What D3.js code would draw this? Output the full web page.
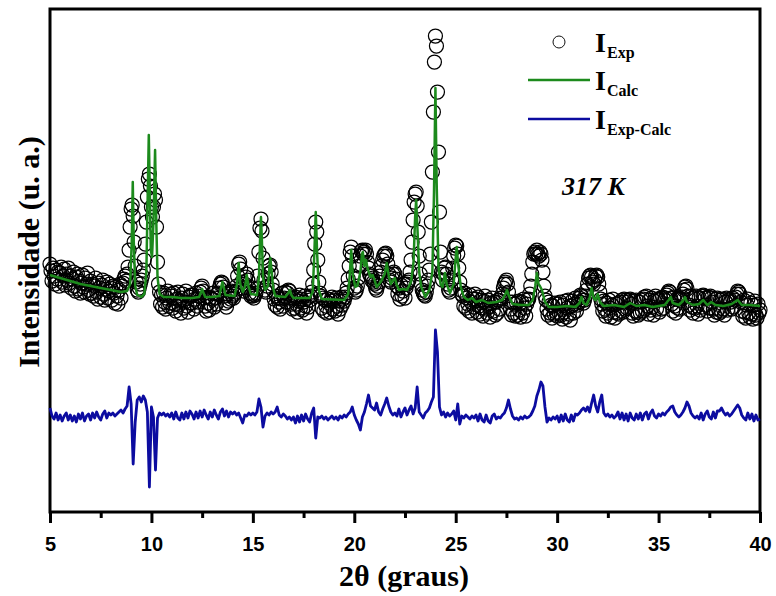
<!DOCTYPE html>
<html><head><meta charset="utf-8">
<script src="https://cdn.jsdelivr.net/npm/d3@7"></script>
<style>body{margin:0;background:#fff}svg{display:block}</style>
</head><body>
<svg id="chart" width="776" height="596"></svg>
<script>
// ---- data (intensity in arbitrary units) ----
const expStart = 5, expStep = 0.05;   // 2θ grid of the experimental points
const iExp = [
248,241,231,244,236,228,242,233,240,226,239,245,230,236,243,227,238,232,244,229,
236,224,233,240,226,221,235,238,223,231,219,229,237,225,220,234,228,239,222,218,
231,219,228,216,226,234,220,213,229,224,215,227,232,218,212,223,230,214,221,228,
224,212,226,219,209,225,216,208,222,228,214,226,229,233,236,231,238,245,262,285,
303,307,296,270,246,230,222,220,224,228,232,236,242,252,268,290,315,333,338,326,
305,295,305,318,312,285,250,228,220,208,217,205,219,210,203,214,221,206,209,218,
216,204,219,208,201,213,220,207,211,199,214,218,204,210,221,206,200,215,209,217,
209,217,203,213,219,206,210,216,220,224,226,221,214,206,201,215,209,202,214,207,
213,219,205,214,208,218,219,224,228,230,229,225,216,209,205,218,211,220,213,221,
216,214,218,220,226,236,248,250,243,230,224,221,228,235,238,232,224,219,216,218,
216,214,217,219,224,236,260,284,293,281,254,232,222,220,226,238,246,247,240,228,
222,213,207,216,205,214,210,203,213,219,206,214,220,210,219,222,221,214,208,203,
214,204,215,208,200,211,217,204,213,202,210,216,206,199,214,205,212,216,220,228,
242,268,290,280,252,230,219,216,204,214,201,212,206,199,213,209,200,211,215,203,
212,201,214,206,198,211,203,215,207,213,211,215,219,224,233,246,260,265,256,236,
224,220,222,226,234,246,256,261,262,258,260,262,258,250,244,238,236,232,234,230,
228,224,222,226,230,236,240,246,252,256,258,259,256,248,238,232,230,234,238,240,
238,233,226,218,224,213,227,216,221,228,214,224,228,230,232,240,252,270,292,310,
318,320,306,280,256,238,228,222,219,217,216,220,226,232,242,258,290,340,400,450,
476,466,420,360,300,260,240,232,238,244,245,238,228,222,220,224,232,244,256,264,
267,266,258,244,230,222,218,216,206,219,204,214,208,201,217,210,199,213,205,218,
213,200,215,206,198,212,204,196,211,216,203,199,212,205,195,209,214,201,210,197,
210,199,212,203,214,214,218,224,228,230,232,228,220,210,203,197,210,199,208,196,
209,197,211,202,195,210,199,213,204,196,208,212,213,218,226,238,250,258,260,258,
262,258,256,260,258,252,240,226,216,212,203,197,210,199,207,194,206,198,209,200,
196,208,199,210,197,193,207,200,211,195,204,212,198,192,206,211,199,208,214,201,
207,210,214,217,216,212,209,212,216,222,228,234,236,237,235,230,228,232,236,237,
235,228,220,213,208,201,211,203,196,209,199,212,204,195,207,213,200,194,208,199,
209,198,210,201,212,200,213,203,212,204,210,212,213,208,199,196,211,201,212,200,
197,210,199,212,201,213,215,203,216,206,198,212,202,214,205,197,211,216,203,213,
212,200,214,203,215,204,212,214,217,219,221,220,214,208,201,215,206,199,213,204,
214,203,213,215,218,222,225,226,223,216,207,202,216,205,199,214,204,216,206,198,
214,202,216,205,217,216,214,207,201,215,204,216,214,210,203,197,213,200,214,203,
199,212,201,213,203,197,210,214,202,212,213,210,203,214,205,212,215,218,221,220,
218,210,201,196,212,200,194,207,213,199,195,209,198,193,207,211,197,194,208,199,
202];

const calcTheta = [5.0,5.5,6.0,6.5,7.0,7.5,8.0,8.5,8.8,8.95,9.03,9.08,9.13,9.2,9.3,9.5,9.65,9.75,9.82,9.87,9.92,9.97,10.03,10.1,10.18,10.24,10.3,10.4,10.6,11.0,11.5,12.0,12.35,12.45,12.5,12.55,12.65,13.0,13.35,13.45,13.5,13.55,13.65,14.1,14.22,14.3,14.38,14.5,14.62,14.7,14.78,14.9,15.2,15.3,15.36,15.4,15.44,15.5,15.6,15.75,15.82,15.86,15.9,16.0,16.1,16.6,16.75,16.82,16.9,17.0,17.8,17.95,18.03,18.1,18.17,18.25,18.4,19.5,19.7,19.78,19.85,19.92,20.05,20.15,20.3,20.38,20.42,20.5,20.58,20.65,20.8,20.9,21.0,21.1,21.3,21.5,21.6,21.7,21.8,21.92,22.0,22.08,22.2,22.4,22.6,22.8,22.92,23.0,23.05,23.1,23.2,23.3,23.5,23.7,23.85,23.93,24.0,24.06,24.15,24.25,24.35,24.47,24.55,24.72,24.9,24.98,25.05,25.12,25.25,25.4,25.6,25.8,26.0,26.3,26.6,27.0,27.3,27.45,27.53,27.6,27.8,28.2,28.6,28.8,28.92,29.0,29.08,29.15,29.25,29.4,29.6,30.0,30.5,30.9,31.1,31.2,31.3,31.45,31.6,31.7,31.8,31.9,32.0,32.1,32.3,32.8,33.3,33.6,33.9,34.3,34.7,35.0,35.3,35.5,35.6,35.7,36.0,36.2,36.3,36.4,36.7,37.0,37.2,37.4,37.6,37.8,38.2,38.6,38.9,39.1,39.5,40.0];
const iCalc = [237,234,231,228,226,224,222,220,221,228,270,330,270,226,217,215,218,240,320,377,320,262,255,290,362,290,235,218,215,215,214,214,215,220,223,220,215,215,216,226,230,226,217,216,228,249,228,220,226,237,226,218,217,235,275,295,275,235,222,226,246,254,246,224,216,215,219,222,217,214,214,220,258,300,258,222,213,212,218,238,262,238,225,226,240,258,260,246,252,244,235,237,232,225,230,238,249,236,228,232,234,228,222,223,222,230,250,295,312,290,240,225,215,222,240,320,424,330,245,228,225,239,228,219,228,250,265,248,225,215,212,214,210,212,209,210,212,218,222,217,208,207,207,212,226,239,228,226,222,210,205,205,206,205,209,215,209,207,214,224,214,212,218,210,206,207,205,209,206,207,205,206,207,212,215,209,207,211,215,210,207,208,212,207,210,207,206,208,212,207,207,206];

const diffStart = 5, diffStep = 0.1;  // 2θ grid of the difference curve
const iDiff = [
104,96,93,99,92,97,91,96,99,92,
97,91,96,90,98,93,99,91,96,98,
92,99,94,100,95,92,98,101,94,99,
97,99,96,98,100,102,99,103,106,125,
108,48,90,112,115,110,116,112,100,25,
105,95,42,94,99,97,99,96,98,95,
99,93,100,94,92,99,93,100,94,101,
98,93,100,94,101,95,102,97,93,100,
95,102,97,93,100,103,96,101,95,100,
98,100,97,99,94,89,97,96,99,97,
99,97,100,113,105,85,96,99,97,100,
98,100,105,97,95,98,96,93,95,92,
95,89,96,90,97,91,98,93,90,99,
104,74,95,94,96,93,95,92,94,96,
93,95,92,96,94,97,95,98,100,105,
97,92,88,82,95,100,108,117,106,104,
102,109,100,97,103,108,114,106,100,97,
99,96,103,95,100,104,97,102,106,98,
104,125,100,97,94,99,101,104,110,115,
182,160,105,97,100,95,99,96,98,101,
92,108,88,96,94,97,95,93,96,94,
97,91,98,92,90,97,91,89,96,98,
93,95,94,97,99,104,112,103,96,93,
94,92,95,93,96,94,95,97,101,106,
116,122,130,126,105,90,94,92,95,93,
96,90,97,91,98,92,90,97,91,98,
97,99,102,104,101,105,100,109,117,106,
100,110,117,99,96,98,95,97,94,96,
100,93,99,92,98,91,99,94,92,98,
93,99,92,98,100,93,99,102,96,94,
98,96,99,97,100,102,105,106,100,97,
95,97,100,104,110,106,99,96,94,96,
93,99,92,98,101,95,93,100,94,101,
101,104,100,97,99,96,98,101,104,107,
104,97,94,92,99,93,98,91,97,92,
93];

const xMajorTicks = [5,10,15,20,25,30,35,40];
const xMinorTicks = [7.5,12.5,17.5,22.5,27.5,32.5,37.5];
const legendLabels = [
  {main:"I", sub:"Exp"},
  {main:"I", sub:"Calc"},
  {main:"I", sub:"Exp-Calc"}
];
const tempLabel = "317 K";
const xTitle = "2θ (graus)";
const yTitle = "Intensidade (u. a.)";

// ---- drawing ----
const svg = d3.select("#chart");
const L = 50, R = 760, T = 9, B = 512;
const x = d3.scaleLinear().domain([5, 40]).range([L, R]);
const y = d3.scaleLinear().domain([0, 503]).range([B, T]);
const serif = "'Liberation Serif','Times New Roman',serif";
const sans = "'Liberation Sans',Arial,sans-serif";
const GREEN = "#1c8a1c", BLUE = "#0c0ca0";

// frame
svg.append("rect").attr("x", L).attr("y", T).attr("width", R - L).attr("height", B - T)
  .attr("fill", "none").attr("stroke", "#000").attr("stroke-width", 3);

// x axis
const gx = svg.append("g").attr("transform", `translate(0,${B})`)
  .call(d3.axisBottom(x).tickValues(xMajorTicks).tickSize(11).tickPadding(14).tickFormat(d3.format("d")));
gx.select(".domain").remove();
gx.selectAll(".tick line").attr("stroke", "#000").attr("stroke-width", 3);
gx.selectAll(".tick text").attr("font-family", sans).attr("font-weight", "bold")
  .attr("font-size", 20).attr("fill", "#000");
const gxm = svg.append("g").attr("transform", `translate(0,${B})`)
  .call(d3.axisBottom(x).tickValues(xMinorTicks).tickSize(6).tickFormat(""));
gxm.select(".domain").remove();
gxm.selectAll(".tick line").attr("stroke", "#000").attr("stroke-width", 3);

// experimental points
const expData = iExp.map((v, i) => ({t: expStart + i * expStep, v}));
svg.append("g").selectAll("circle").data(expData).join("circle")
  .attr("cx", d => x(d.t)).attr("cy", d => y(d.v)).attr("r", 7)
  .attr("fill", "none").attr("stroke", "#000").attr("stroke-width", 1.25);

// calculated
const calcData = calcTheta.map((t, i) => ({t, v: iCalc[i]}));
svg.append("path").datum(calcData)
  .attr("d", d3.line().x(d => x(d.t)).y(d => y(d.v)))
  .attr("fill", "none").attr("stroke", GREEN).attr("stroke-width", 2.5).attr("stroke-linejoin", "round");

// difference
const diffData = iDiff.map((v, i) => ({t: diffStart + i * diffStep, v}));
svg.append("path").datum(diffData)
  .attr("d", d3.line().x(d => x(d.t)).y(d => y(d.v)))
  .attr("fill", "none").attr("stroke", BLUE).attr("stroke-width", 2.8).attr("stroke-linejoin", "round");

// legend
const lg = svg.append("g");
lg.append("circle").attr("cx", 559).attr("cy", 42).attr("r", 6)
  .attr("fill", "#fff").attr("stroke", "#111").attr("stroke-width", 1);
lg.append("line").attr("x1", 528).attr("x2", 590).attr("y1", 80).attr("y2", 80)
  .attr("stroke", GREEN).attr("stroke-width", 2.5);
lg.append("line").attr("x1", 528).attr("x2", 590).attr("y1", 119).attr("y2", 119)
  .attr("stroke", BLUE).attr("stroke-width", 2.5);
const rowsY = [52, 90, 129];
legendLabels.forEach((l, i) => {
  lg.append("text").attr("x", 595).attr("y", rowsY[i]).text(l.main)
    .attr("font-family", serif).attr("font-weight", "bold").attr("font-size", 28);
  lg.append("text").attr("x", 607).attr("y", rowsY[i] + 6).text(l.sub)
    .attr("font-family", serif).attr("font-weight", "bold").attr("font-size", 16);
});
svg.append("text").attr("x", 562).attr("y", 195).text(tempLabel)
  .attr("font-family", serif).attr("font-weight", "bold").attr("font-style", "italic").attr("font-size", 26);

// axis titles
svg.append("text").attr("x", 404).attr("y", 586).attr("text-anchor", "middle").text(xTitle)
  .attr("font-family", serif).attr("font-weight", "bold").attr("font-size", 30);
svg.append("text").attr("transform", "translate(39,252) rotate(-90)").attr("text-anchor", "middle")
  .text(yTitle).attr("font-family", serif).attr("font-weight", "bold").attr("font-size", 30);
</script>
</body></html>
